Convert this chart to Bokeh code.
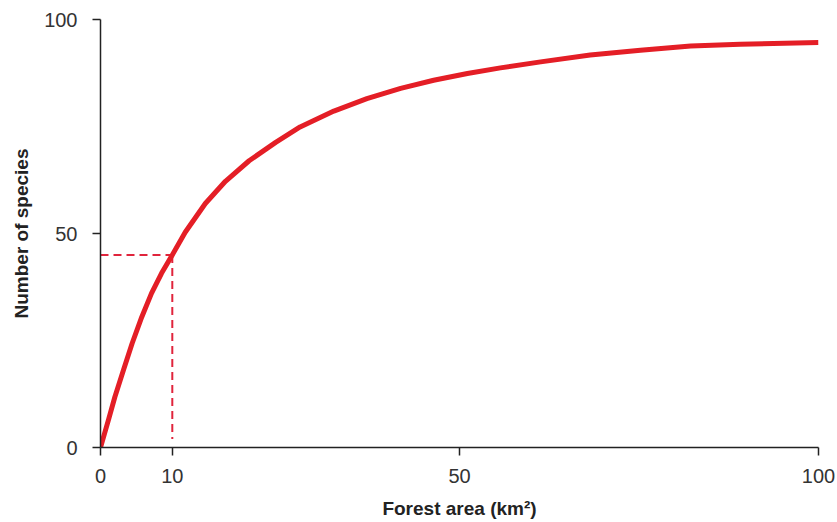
from bokeh.plotting import figure
from bokeh.models import Range1d, FixedTicker
from bokeh.embed import file_html
from bokeh.resources import INLINE

# Curve
area = [0, 1.1, 2.0, 3.2, 4.4, 5.75, 7.1, 8.5, 10, 11.8, 14.6, 17.4, 20.7, 24.4, 27.8,
        32.5, 37.1, 41.8, 46.4, 51.1, 55.7, 61.3, 68.2, 75.2, 82.2, 89.1, 100]
species = [0, 6.4, 11.8, 18.1, 24.3, 30.5, 36.0, 40.7, 45.0, 50.3, 57.0, 62.2, 67.0, 71.3,
           74.9, 78.6, 81.5, 83.9, 85.8, 87.4, 88.7, 90.1, 91.7, 92.8, 93.8, 94.2, 94.6]

# Reference (dashed) lines at 10 km2 -> 45 species
ref_x_h = [0, 10]
ref_y_h = [45, 45]
ref_x_v = [10, 10]
ref_y_v = [45, 2]

x_ticks = [0, 10, 50, 100]
y_ticks = [0, 50, 100]

p = figure(frame_width=718, frame_height=428, output_backend="svg", toolbar_location=None,
           x_range=Range1d(0, 100), y_range=Range1d(0, 100),
           min_border_left=100, min_border_right=19, min_border_top=19, min_border_bottom=75)
p.outline_line_color = None
p.xgrid.visible = False
p.ygrid.visible = False
p.background_fill_color = "white"
p.border_fill_color = "white"

red = "#e41e26"
p.line(ref_x_h, ref_y_h, line_color="#e0243c", line_width=2, line_dash="8 5")
p.line(ref_x_v, ref_y_v, line_color="#e0243c", line_width=2, line_dash="8 5")
p.line(area, species, line_color=red, line_width=5, line_cap="butt", line_join="round")

for ax in (p.xaxis[0], p.yaxis[0]):
    ax.axis_line_color = "#222222"
    ax.axis_line_width = 1.5
    ax.major_tick_line_color = "#222222"
    ax.major_tick_line_width = 1.5
    ax.major_tick_in = 0
    ax.major_tick_out = 8
    ax.minor_tick_line_color = None
    ax.major_label_text_font = "Liberation Sans"
    ax.major_label_text_font_size = "20px"
    ax.major_label_text_color = "#333333"
    ax.axis_label_text_font = "Liberation Sans"
    ax.axis_label_text_font_style = "bold"
    ax.axis_label_text_font_size = "19px"
    ax.axis_label_text_color = "#222222"

p.xaxis.ticker = FixedTicker(ticks=x_ticks)
p.yaxis.ticker = FixedTicker(ticks=y_ticks)
p.xaxis.axis_label = "Forest area (km²)"
p.yaxis.axis_label = "Number of species"
p.xaxis.major_label_standoff = 13
p.yaxis.major_label_standoff = 15
p.xaxis.axis_label_standoff = 12
p.yaxis.axis_label_standoff = 9

open("out.html", "w").write(file_html(p, INLINE))
